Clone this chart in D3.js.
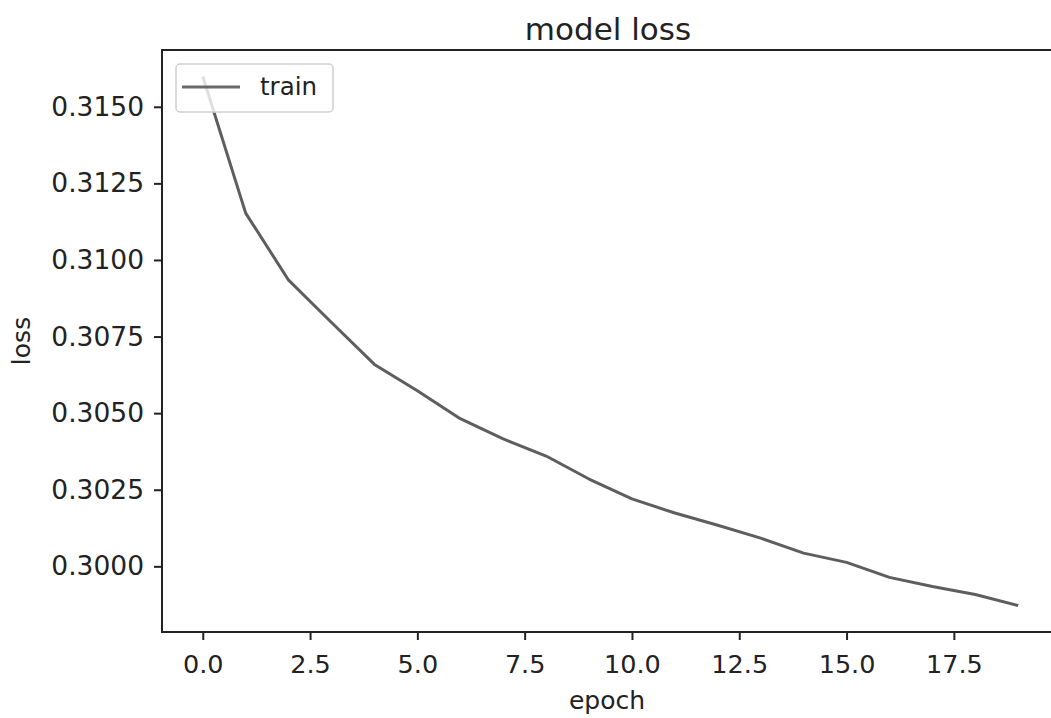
<!DOCTYPE html>
<html>
<head>
<meta charset="utf-8">
<script src="https://cdn.jsdelivr.net/npm/d3@7"></script>
<style>
  html, body { margin: 0; background: #fff; overflow: hidden; }
  svg { display: block; overflow: hidden; }
  text { font-family: "DejaVu Sans", sans-serif; }
  .axis path, .axis line { stroke: #222; }
  .axis text { fill: #222; }
</style>
</head>
<body>
<svg id="chart" width="1051" height="718"></svg>
<script>
// training history
const epochs = [0, 1, 2, 3, 4, 5, 6, 7, 8, 9, 10, 11, 12, 13, 14, 15, 16, 17, 18, 19]
const trainLoss = [0.31599, 0.31153, 0.30934, 0.30796, 0.30659, 0.30573, 0.30482, 0.30416,
  0.30360, 0.30285, 0.30220, 0.30174, 0.30134, 0.30092, 0.30043, 0.30013, 0.29964,
  0.29934, 0.29908, 0.29872]
const xTicks = [0, 2.5, 5, 7.5, 10, 12.5, 15, 17.5]
const yTicks = [0.3000, 0.3025, 0.3050, 0.3075, 0.3100, 0.3125, 0.3150]
const seriesName = 'train'

const FONT = '"DejaVu Sans", sans-serif'
const svg = d3.select('#chart')
const margin = { left: 162, top: 50, right: -8, bottom: 86 }
const width = 1051 - margin.left - margin.right
const height = 718 - margin.top - margin.bottom

// matplotlib style 5% padding around the data
const xExt = d3.extent(epochs)
const yExt = d3.extent(trainLoss)
const xPad = (xExt[1] - xExt[0]) * 0.05
const yPad = (yExt[1] - yExt[0]) * 0.05

const x = d3.scaleLinear()
  .domain([xExt[0] - xPad, xExt[1] + xPad])
  .range([0, width])
const y = d3.scaleLinear()
  .domain([yExt[0] - yPad, yExt[1] + yPad])
  .range([height, 0])

const g = svg.append('g')
  .attr('transform', `translate(${margin.left},${margin.top})`)

const xAxis = d3.axisBottom(x)
  .tickValues(xTicks)
  .tickFormat(d3.format('.1f'))
  .tickSize(8)
  .tickPadding(15)
const yAxis = d3.axisLeft(y)
  .tickValues(yTicks)
  .tickFormat(d3.format('.4f'))
  .tickSize(8)
  .tickPadding(10)

g.append('g')
  .attr('class', 'axis')
  .attr('transform', `translate(0,${height})`)
  .call(xAxis)
  .attr('font-family', FONT)
  .attr('font-size', 25.5)
  .call(a => a.select('.domain').remove())

g.append('g')
  .attr('class', 'axis')
  .call(yAxis)
  .attr('font-family', FONT)
  .attr('font-size', 26.5)
  .call(a => a.select('.domain').remove())

g.selectAll('.axis .tick line').attr('stroke-width', 2)

// spines: right one falls outside the picture
g.append('path')
  .attr('d', `M${width},0H0V${height}H${width}`)
  .attr('fill', 'none')
  .attr('stroke', '#222')
  .attr('stroke-width', 2)

const line = d3.line()
  .x((d, i) => x(epochs[i]))
  .y(d => y(d))

g.append('path')
  .datum(trainLoss)
  .attr('fill', 'none')
  .attr('stroke', '#5e5e5e')
  .attr('stroke-width', 3)
  .attr('stroke-linejoin', 'round')
  .attr('d', line)

// legend
const legend = g.append('g').attr('transform', 'translate(14,14)')
legend.append('rect')
  .attr('width', 157)
  .attr('height', 48)
  .attr('rx', 4)
  .attr('fill', 'rgba(255,255,255,0.8)')
  .attr('stroke', '#d0d0d0')
  .attr('stroke-width', 1.5)
legend.append('line')
  .attr('x1', 6).attr('x2', 64)
  .attr('y1', 23).attr('y2', 23)
  .attr('stroke', '#6a6a6a')
  .attr('stroke-width', 3)
legend.append('text')
  .attr('x', 84)
  .attr('y', 31)
  .attr('font-family', FONT)
  .attr('font-size', 24.5)
  .attr('fill', '#222')
  .text(seriesName)

// titles
svg.append('text')
  .attr('x', 608)
  .attr('y', 40)
  .attr('text-anchor', 'middle')
  .attr('font-family', FONT)
  .attr('font-size', 31)
  .attr('fill', '#222')
  .text('model loss')

svg.append('text')
  .attr('x', 607)
  .attr('y', 709)
  .attr('text-anchor', 'middle')
  .attr('font-family', FONT)
  .attr('font-size', 25)
  .attr('fill', '#222')
  .text('epoch')

svg.append('text')
  .attr('transform', `translate(30,${margin.top + height / 2}) rotate(-90)`)
  .attr('text-anchor', 'middle')
  .attr('font-family', FONT)
  .attr('font-size', 25)
  .attr('fill', '#222')
  .text('loss')
</script>
</body>
</html>
